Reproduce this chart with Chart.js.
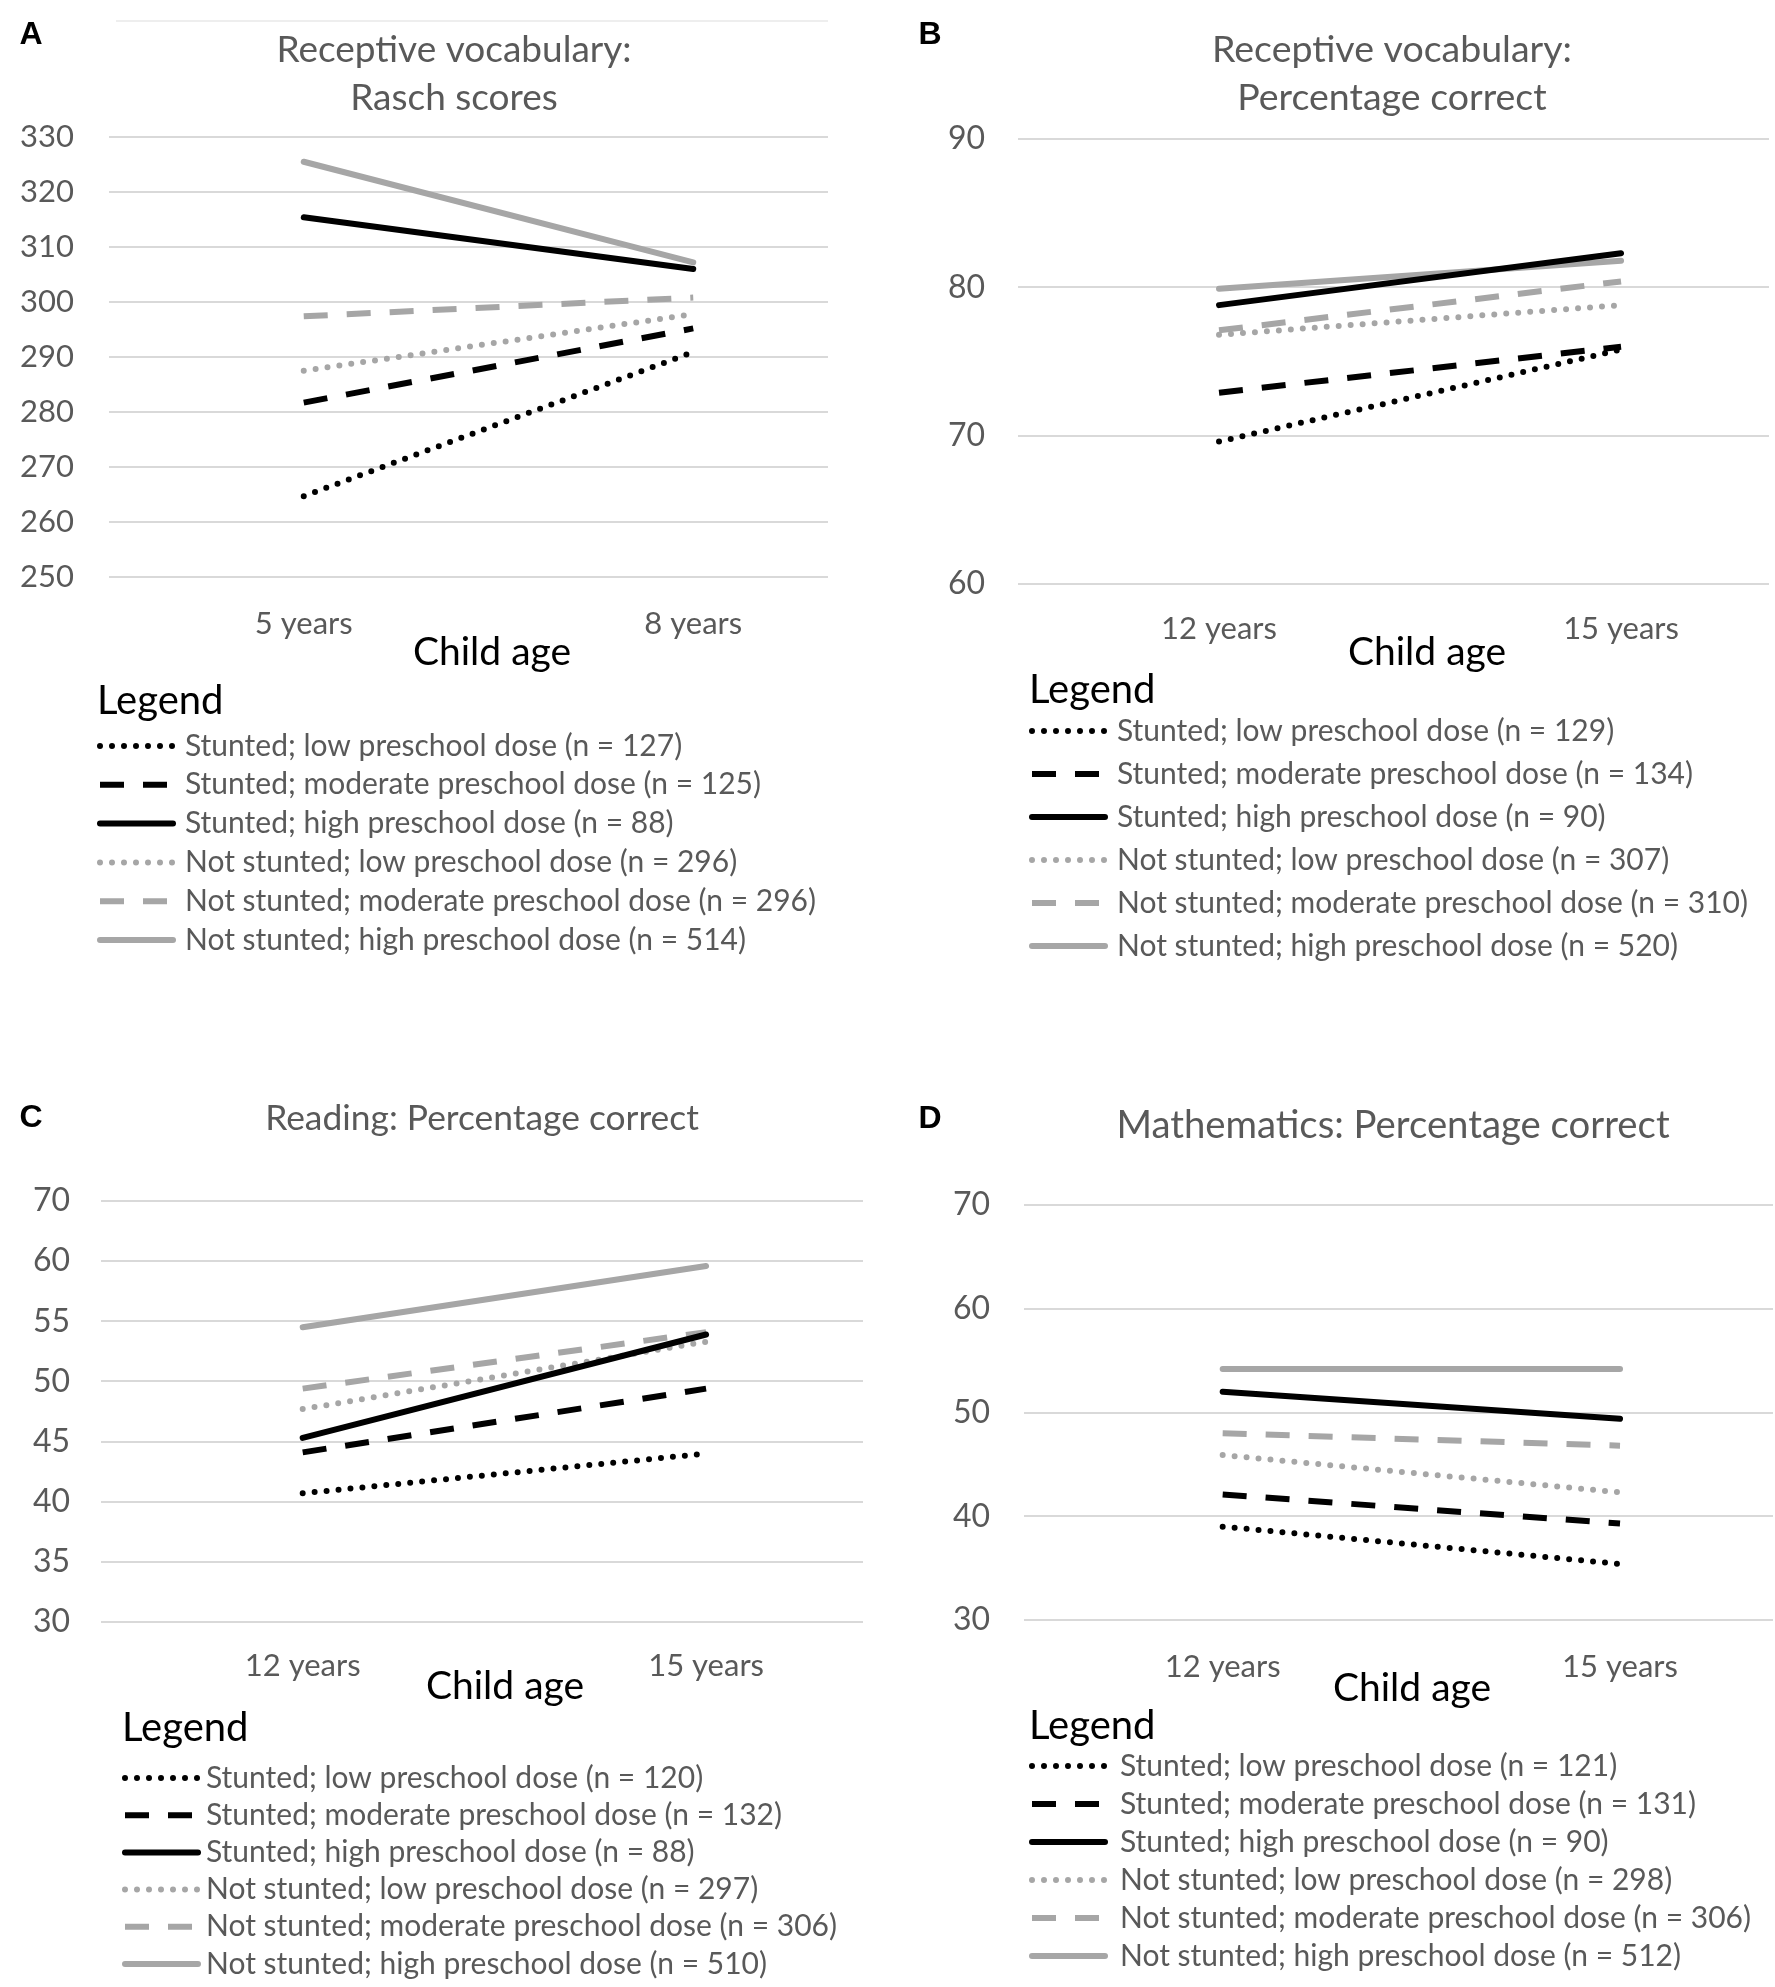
<!DOCTYPE html>
<html>
<head>
<meta charset="utf-8">
<script src="https://cdn.jsdelivr.net/npm/chart.js@4.4.0/dist/chart.umd.min.js"></script>
<style>
    html, body { margin: 0; padding: 0; background: #fff; }
    #page { position: relative; width: 1775px; height: 1987px; background: #fff; overflow: hidden; }
    #page canvas { position: absolute; }
</style>
</head>
<body>
<div id="page">
    <canvas id="chartA" width="887" height="1000" style="left:0;top:0"></canvas>
    <canvas id="chartB" width="888" height="1000" style="left:887px;top:0"></canvas>
    <canvas id="chartC" width="887" height="987" style="left:0;top:1000px"></canvas>
    <canvas id="chartD" width="888" height="987" style="left:887px;top:1000px"></canvas>
</div>
<script>
/* ======================
   DATA
====================== */
const agesEarly = ["5 years", "8 years"];
const agesLate = ["12 years", "15 years"];

const groupNames = [
    "Stunted; low preschool dose",
    "Stunted; moderate preschool dose",
    "Stunted; high preschool dose",
    "Not stunted; low preschool dose",
    "Not stunted; moderate preschool dose",
    "Not stunted; high preschool dose"
];

// sample sizes per panel (same group order as above)
const nRasch = [127, 125, 88, 296, 296, 514];
const nVocabPct = [129, 134, 90, 307, 310, 520];
const nReading = [120, 132, 88, 297, 306, 510];
const nMaths = [121, 131, 90, 298, 306, 512];

// [first age, second age] per group
const raschScores = [[264.7, 290.9], [281.7, 295.2], [315.4, 306.0], [287.5, 297.8], [297.4, 300.8], [325.5, 307.2]];
const vocabPct = [[69.6, 75.8], [72.9, 76.0], [78.8, 82.3], [76.8, 78.8], [77.1, 80.4], [79.9, 81.8]];
const readingPct = [[40.7, 44.0], [44.1, 49.4], [45.3, 53.9], [47.7, 53.3], [49.4, 54.1], [54.5, 59.6]];
const mathsPct = [[39.0, 35.4], [42.1, 39.3], [52.0, 49.4], [45.9, 42.3], [48.0, 46.8], [54.2, 54.2]];

// y tick labels, bottom to top (reading axis prints 70 on its top line)
const ticksRasch = ["250", "260", "270", "280", "290", "300", "310", "320", "330"];
const ticksVocabPct = ["60", "70", "80", "90"];
const ticksReading = ["30", "35", "40", "45", "50", "55", "60", "70"];
const ticksMaths = ["30", "40", "50", "60", "70"];

/* ======================
   STYLES
====================== */
const FONT = "Lato, 'Open Sans', sans-serif";
const TEXT_GREY = "#595959";
const LINE_GREY = "#a6a6a6";
const GRID_GREY = "#d9d9d9";

const lineStyles = [
    { color: "#000", dash: [0, 12], cap: "round" },
    { color: "#000", dash: [24, 19], cap: "butt" },
    { color: "#000", dash: [], cap: "round" },
    { color: LINE_GREY, dash: [0, 12], cap: "round" },
    { color: LINE_GREY, dash: [24, 19], cap: "butt" },
    { color: LINE_GREY, dash: [], cap: "round" }
];

/* ======================
   TEXT + LEGEND PLUGIN
====================== */
const panelDecor = {
    id: "panelDecor",
    afterDraw(chart, args, o) {
        const ctx = chart.ctx;
        ctx.save();
        ctx.textBaseline = "middle";

        if (o.topLine) {
            ctx.strokeStyle = "#eeeeee";
            ctx.lineWidth = 2;
            ctx.beginPath();
            ctx.moveTo(o.topLine[0], o.topLine[2]);
            ctx.lineTo(o.topLine[1], o.topLine[2]);
            ctx.stroke();
        }

        // panel letter
        ctx.fillStyle = "#000";
        ctx.textAlign = "center";
        ctx.font = "bold 32px 'Liberation Sans', Arial, sans-serif";
        ctx.fillText(o.letter, o.letterPos[0], o.letterPos[1]);

        // title
        ctx.fillStyle = TEXT_GREY;
        ctx.font = o.titleSize + "px " + FONT;
        o.title.forEach((t, i) => ctx.fillText(t, o.titleX, o.titleY[i]));

        // axis title
        ctx.fillStyle = "#000";
        ctx.font = "39px " + FONT;
        ctx.fillText("Child age", o.axisTitle[0], o.axisTitle[1]);

        // legend
        ctx.textAlign = "left";
        ctx.font = "40px " + FONT;
        ctx.fillText("Legend", o.legendX, o.legendTitleY);
        ctx.font = "30px " + FONT;
        chart.data.datasets.forEach((ds, i) => {
            const y = o.legendY + i * o.legendGap;
            ctx.strokeStyle = ds.borderColor;
            ctx.lineWidth = ds.borderWidth;
            ctx.lineCap = ds.borderCapStyle;
            ctx.setLineDash(ds.borderDash);
            ctx.beginPath();
            ctx.moveTo(o.legendX + 3, y);
            ctx.lineTo(o.legendX + 76, y);
            ctx.stroke();
            ctx.setLineDash([]);
            ctx.fillStyle = TEXT_GREY;
            ctx.fillText(ds.label, o.legendTextX, y);
        });
        ctx.restore();
    }
};

/* ======================
   PANEL BUILDER
====================== */
function makePanel(p) {
    const canvas = document.getElementById(p.id);
    const W = canvas.width, H = canvas.height;
    const xAxisH = 100;
    const yMin = Number(p.yTicks[0]);
    const yMax = yMin + p.yStep * (p.yTicks.length - 1);

    const datasets = p.values.map((vals, k) => ({
        label: groupNames[k] + " (n = " + p.ns[k] + ")",
        data: vals.map((v, i) => ({ x: i, y: v })),
        borderColor: lineStyles[k].color,
        borderDash: lineStyles[k].dash,
        borderCapStyle: lineStyles[k].cap,
        borderWidth: 6,
        pointRadius: 0,
        fill: false,
        tension: 0
    }));

    return new Chart(canvas, {
        type: "line",
        data: { datasets: datasets },
        plugins: [panelDecor],
        options: {
            responsive: false,
            animation: false,
            devicePixelRatio: 1,
            layout: {
                padding: {
                    left: 0,
                    top: p.area.top,
                    right: W - p.area.right,
                    bottom: H - p.area.bottom - xAxisH
                }
            },
            plugins: {
                legend: { display: false },
                title: { display: false },
                tooltip: { enabled: false },
                panelDecor: p.decor
            },
            scales: {
                x: {
                    type: "linear",
                    min: -0.5,
                    max: p.xMax,
                    afterBuildTicks: s => { s.ticks = p.cats.map((c, i) => ({ value: i })); },
                    afterFit: s => { s.height = xAxisH; },
                    grid: { display: false, drawTicks: false },
                    border: { display: false },
                    ticks: {
                        padding: p.xTickPad,
                        color: TEXT_GREY,
                        font: { family: FONT, size: 31 },
                        maxRotation: 0,
                        callback: v => p.cats[v]
                    }
                },
                y: {
                    min: yMin,
                    max: yMax,
                    afterBuildTicks: s => {
                        s.ticks = p.yTicks.map((t, i) => ({ value: yMin + i * p.yStep }));
                    },
                    afterFit: s => { s.width = p.area.left; },
                    grid: { color: GRID_GREY, lineWidth: 2, drawTicks: false },
                    border: { display: false },
                    ticks: {
                        padding: p.yTickPad,
                        color: TEXT_GREY,
                        font: { family: FONT, size: p.yTickSize },
                        callback: v => p.yTicks[Math.round((v - yMin) / p.yStep)]
                    }
                }
            }
        }
    });
}

/* ======================
   PANELS
====================== */
makePanel({
    id: "chartA", cats: agesEarly, values: raschScores, ns: nRasch,
    yTicks: ticksRasch, yStep: 10, xMax: 1.346,
    area: { left: 109, right: 828, top: 137, bottom: 577 },
    yTickPad: 35, yTickSize: 31, xTickPad: 28,
    decor: {
        letter: "A", letterPos: [31, 35], topLine: [116, 828, 21],
        title: ["Receptive vocabulary:", "Rasch scores"], titleSize: 37, titleX: 454, titleY: [50, 98],
        axisTitle: [492, 652],
        legendX: 97, legendTitleY: 701, legendTextX: 185, legendY: 746, legendGap: 38.8
    }
});

makePanel({
    id: "chartB", cats: agesLate, values: vocabPct, ns: nVocabPct,
    yTicks: ticksVocabPct, yStep: 10, xMax: 1.368,
    area: { left: 131, right: 882, top: 139, bottom: 584 },
    yTickPad: 33, yTickSize: 32, xTickPad: 26,
    decor: {
        letter: "B", letterPos: [43, 35],
        title: ["Receptive vocabulary:", "Percentage correct"], titleSize: 37.5, titleX: 505, titleY: [50, 98],
        axisTitle: [540, 652],
        legendX: 142, legendTitleY: 690, legendTextX: 230, legendY: 731, legendGap: 43
    }
});

makePanel({
    id: "chartC", cats: agesLate, values: readingPct, ns: nReading,
    yTicks: ticksReading, yStep: 5, xMax: 1.389,
    area: { left: 101, right: 863, top: 201, bottom: 622 },
    yTickPad: 31, yTickSize: 32, xTickPad: 25,
    decor: {
        letter: "C", letterPos: [31, 118],
        title: ["Reading: Percentage correct"], titleSize: 35.4, titleX: 482, titleY: [119],
        axisTitle: [505, 686],
        legendX: 122, legendTitleY: 728, legendTextX: 206, legendY: 778, legendGap: 37.2
    }
});

makePanel({
    id: "chartD", cats: agesLate, values: mathsPct, ns: nMaths,
    yTicks: ticksMaths, yStep: 10, xMax: 1.385,
    area: { left: 137, right: 886, top: 205, bottom: 620 },
    yTickPad: 34, yTickSize: 32, xTickPad: 28,
    decor: {
        letter: "D", letterPos: [43, 119],
        title: ["Mathematics: Percentage correct"], titleSize: 38.3, titleX: 506, titleY: [126],
        axisTitle: [525, 688],
        legendX: 142, legendTitleY: 726, legendTextX: 233, legendY: 766, legendGap: 38
    }
});
</script>
</body>
</html>
